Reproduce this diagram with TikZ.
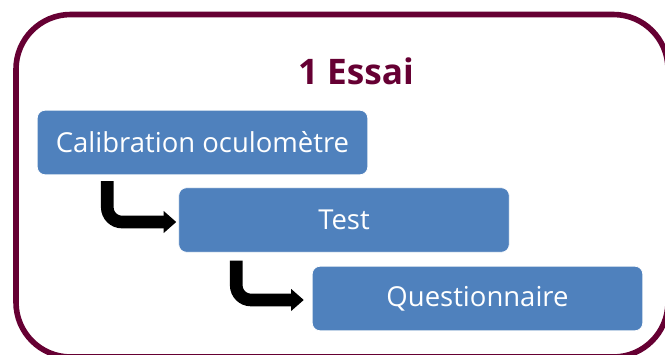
\documentclass[tikz,border=0pt]{standalone}
\usepackage{fontspec}
\setmainfont{Open Sans}
\usetikzlibrary{arrows.meta,positioning}
\definecolor{essaiplum}{RGB}{102,0,51}
\definecolor{stepblue}{RGB}{79,129,189}

\begin{document}
\begin{tikzpicture}[
    x=0.75pt, y=-0.75pt,
    stepbox/.style={fill=stepblue, draw=white, line width=0.6pt, rounded corners=6pt, minimum width=248pt, minimum height=48.5pt, text=white, font=\fontsize{20.6}{25}\selectfont},
    bent/.style={draw=black, line width=9.5pt, rounded corners=11pt, -{Triangle[length=9.5pt, width=16pt]}}
]
\useasboundingbox (0,0) rectangle (665,354);
% outer frame, cut by the page edge
\begin{scope}
\clip (0,0) rectangle (665,354);
\draw[essaiplum, line width=4.2pt, rounded corners=41pt] (16,14.5) rectangle (668,357);
\end{scope}

\node[font=\bfseries\fontsize{26.4}{30}\selectfont, text=essaiplum] (title) at (356,71) {1 Essai};
\node[stepbox] (calib) at (202.5,142.5) {Calibration oculomètre};
\node[stepbox] (test) at (344,220) {Test};
\node[stepbox] (quest) at (477.5,298.5) {Questionnaire};

\draw[bent] ([xshift=52.9pt, yshift=-4.5pt]calib.south west) |- ([xshift=-1.5pt, yshift=-1.5pt]test.west);
\draw[bent] ([xshift=43.5pt, yshift=-6pt]test.south west) |- ([xshift=-6pt, yshift=-1.1pt]quest.west);
\end{tikzpicture}
\end{document}
